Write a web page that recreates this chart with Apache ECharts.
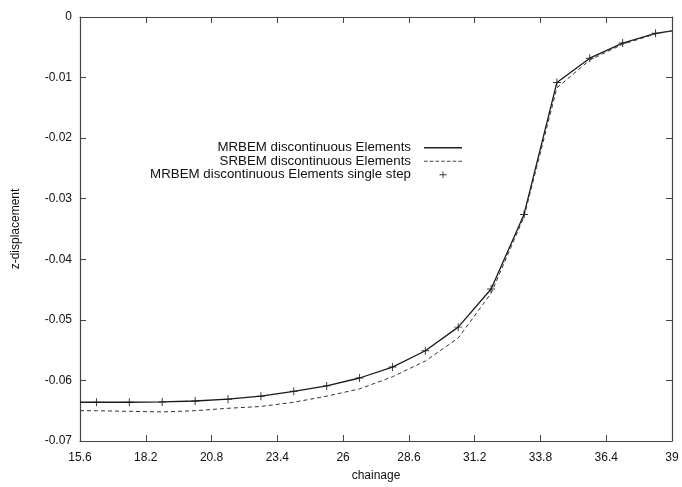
<!DOCTYPE html>
<html><head><meta charset="utf-8">
<script src="https://cdn.jsdelivr.net/npm/echarts@6/dist/echarts.min.js"></script>
<style>html,body{margin:0;padding:0;background:#fff}#c{width:682px;height:487px}</style>
</head><body><div id="c"></div>
<script>
const chainage = [15.6, 16.25, 17.55, 18.85, 20.15, 21.45, 22.75, 24.05, 25.35, 26.65, 27.95, 29.25, 30.55, 31.85, 33.15, 34.45, 35.75, 37.05, 38.35, 39];
const mrbem = [-0.0636, -0.0636, -0.0636, -0.06355, -0.0634, -0.0631, -0.0626, -0.0618, -0.0609, -0.0596, -0.0578, -0.0551, -0.0512, -0.0449, -0.0326, -0.0108, -0.0068, -0.0043, -0.0027, -0.0023];
const srbem = [-0.0650, -0.0650, -0.0651, -0.0652, -0.0650, -0.0646, -0.0643, -0.0636, -0.0626, -0.0614, -0.0594, -0.0568, -0.0530, -0.0456, -0.0330, -0.0117, -0.0071, -0.0045, -0.0028, -0.0023];
const stepX = [16.25, 17.55, 18.85, 20.15, 21.45, 22.75, 24.05, 25.35, 26.65, 27.95, 29.25, 30.55, 31.85, 33.15, 34.45, 35.75, 37.05, 38.35];
const stepY = [-0.0636, -0.0636, -0.06355, -0.0634, -0.0631, -0.0626, -0.0618, -0.0609, -0.0596, -0.0578, -0.0551, -0.0512, -0.0449, -0.0326, -0.0108, -0.0068, -0.0043, -0.0027];
const xTicks = [15.6, 18.2, 20.8, 23.4, 26, 28.6, 31.2, 33.8, 36.4, 39];
const yTicks = [-0.07, -0.06, -0.05, -0.04, -0.03, -0.02, -0.01, 0];
const names = ['MRBEM discontinuous Elements', 'SRBEM discontinuous Elements', 'MRBEM discontinuous Elements single step'];

const FONT = 'Liberation Sans, Arial, sans-serif';
const frame = '#444';
const cross = 'path://M0,4.4h10v1.2h-10z M4.4,0h1.2v10h-1.2z';
const solidIcon = 'path://M0,0h38v1.3h-38z';
let dashPath = 'path://';
for (let i = 0; i < 38; i += 5.5) dashPath += 'M' + i + ',0h3.5v1h-3.5z ';
const zip = (a, b) => a.map((v, i) => [v, b[i]]);

const chart = echarts.init(document.getElementById('c'), null, {renderer: 'canvas'});
const xBase = {
  type: 'value', min: xTicks[0], max: xTicks[xTicks.length - 1], interval: 2.6,
  axisLine: {show: true, onZero: false, lineStyle: {color: frame, width: 1.2}},
  axisTick: {show: true, inside: true, length: 6, lineStyle: {color: frame}},
  splitLine: {show: false}
};
const yBase = {
  type: 'value', min: yTicks[0], max: yTicks[yTicks.length - 1], interval: 0.01,
  axisLine: {show: true, onZero: false, lineStyle: {color: frame, width: 1.2}},
  axisTick: {show: true, inside: true, length: 6, lineStyle: {color: frame}},
  splitLine: {show: false}
};
chart.setOption({
  animation: false,
  textStyle: {fontFamily: FONT},
  grid: {left: 80, right: 10, top: 17, bottom: 43, containLabel: false},
  xAxis: [
    Object.assign({}, xBase, {
      position: 'bottom', name: 'chainage', nameLocation: 'middle', nameGap: 29,
      nameTextStyle: {color: '#111', fontSize: 12, fontFamily: FONT},
      axisLabel: {color: '#111', fontSize: 12, margin: 11, fontFamily: FONT,
        formatter: v => String(Math.round(v * 10) / 10)}
    }),
    Object.assign({}, xBase, {position: 'top', axisLabel: {show: false}})
  ],
  yAxis: [
    Object.assign({}, yBase, {
      position: 'left', name: 'z-displacement', nameLocation: 'middle', nameGap: 58,
      nameTextStyle: {color: '#111', fontSize: 12, fontFamily: FONT},
      axisLabel: {color: '#111', fontSize: 12, margin: 8, fontFamily: FONT,
        formatter: v => String(Math.round(v * 100) / 100)}
    }),
    Object.assign({}, yBase, {position: 'right', axisLabel: {show: false}})
  ],
  legend: {
    orient: 'vertical', right: 220, top: 141, align: 'right', padding: 0,
    itemWidth: 38, itemHeight: 7, itemGap: 0,
    textStyle: {color: '#111', fontSize: 13.3, lineHeight: 13.5, fontFamily: FONT, padding: [0, 8, 0, 0]},
    data: [
      {name: names[0], icon: solidIcon, itemStyle: {color: '#222'}},
      {name: names[1], icon: dashPath, itemStyle: {color: '#444'}},
      {name: names[2], icon: cross, itemStyle: {color: '#000'}}
    ]
  },
  series: [
    {name: names[0], type: 'line', data: zip(chainage, mrbem), symbol: 'none',
     lineStyle: {color: '#1a1a1a', width: 1.3}, itemStyle: {color: '#222'}},
    {name: names[1], type: 'line', data: zip(chainage, srbem), symbol: 'none',
     lineStyle: {color: '#333', width: 1, type: [4, 3]}, itemStyle: {color: '#333'}},
    {name: names[2], type: 'scatter', data: zip(stepX, stepY), symbol: cross, symbolSize: 8,
     itemStyle: {color: '#000'}}
  ]
});
</script></body></html>
